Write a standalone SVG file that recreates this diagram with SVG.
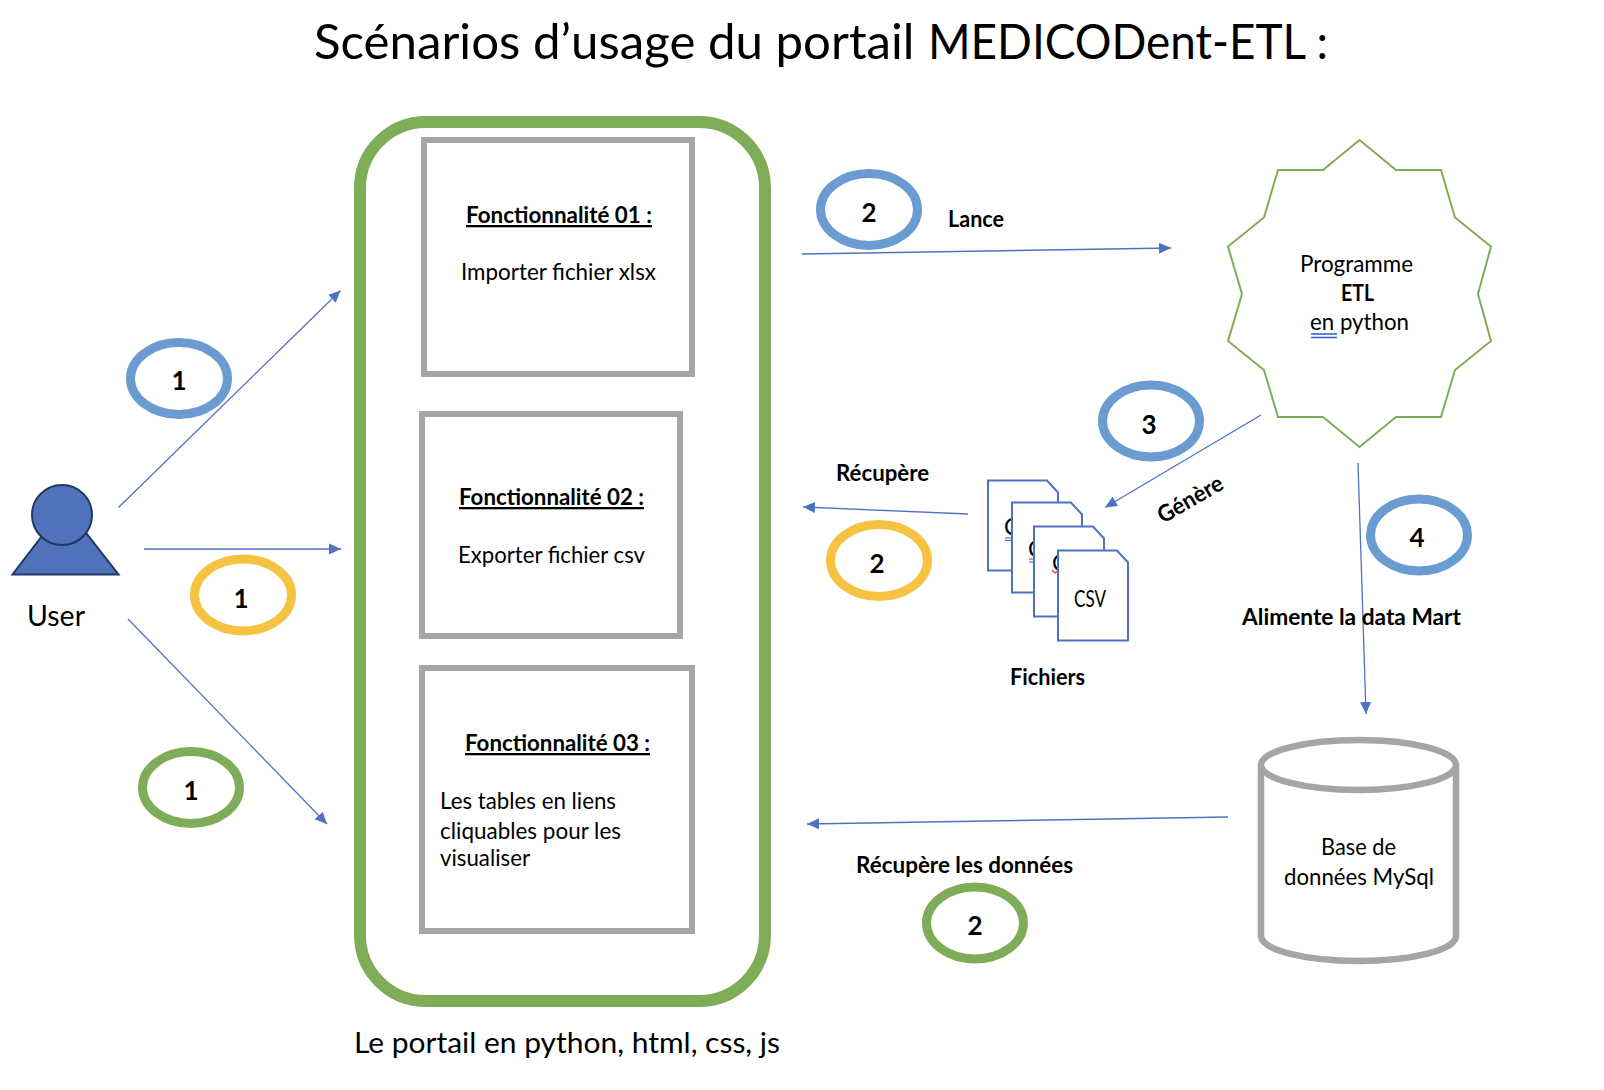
<svg xmlns="http://www.w3.org/2000/svg" width="1604" height="1090" viewBox="0 0 1604 1090">
<style>
text{font-family:"Lato","Carlito","Open Sans",sans-serif;fill:#000;font-size:23px}
.b{font-weight:700}
.u{text-decoration:underline}
.n{font-weight:700;font-size:26px;text-anchor:middle}
.title{font-size:49px}
.big{font-size:29.500px}
.box{fill:#fff;stroke:#a5a5a5;stroke-width:6}
.ring{fill:none;stroke-width:9}
.blue{stroke:#6a9bd1}.yellow{stroke:#f5c242}.green{stroke:#7fac57}
.doc{fill:#fff;stroke:#4f72c0;stroke-width:2}
.link{fill:none;stroke:#4f72c0;stroke-width:1.300;marker-end:url(#arrow)}
</style>
<defs><marker id="arrow" markerUnits="userSpaceOnUse" markerWidth="12" markerHeight="12" refX="12" refY="6" orient="auto"><path d="M0,0.500L12,6L0,11.500Z" fill="#4f72c0"/></marker></defs>
<rect width="1604" height="1090" fill="#fff"/>
<text id="title" class="title" y="59"><tspan x="314" textLength="613" lengthAdjust="spacingAndGlyphs">Scénarios d’usage du portail </tspan><tspan x="928" textLength="400" lengthAdjust="spacingAndGlyphs">MEDICODent-ETL :</tspan></text>
<g id="portal">
<rect x="360" y="122" width="405" height="879" rx="66" ry="66" fill="#fff" stroke="#7fac57" stroke-width="12"/>
<text class="big" x="354" y="1053" textLength="426" lengthAdjust="spacingAndGlyphs">Le portail en python, html, css, js</text>
</g>
<g id="f1"><rect class="box" x="424" y="140" width="268" height="234"/>
<text class="b u" x="466" y="223" textLength="186" lengthAdjust="spacingAndGlyphs">Fonctionnalité 01 :</text>
<text x="461" y="280" textLength="195" lengthAdjust="spacingAndGlyphs">Importer fichier xlsx</text></g>
<g id="f2"><rect class="box" x="422" y="414" width="258" height="222"/>
<text class="b u" x="459" y="505" textLength="185" lengthAdjust="spacingAndGlyphs">Fonctionnalité 02 :</text>
<text x="458" y="563" textLength="187" lengthAdjust="spacingAndGlyphs">Exporter fichier csv</text></g>
<g id="f3"><rect class="box" x="422" y="668" width="270" height="263"/>
<text class="b u" x="465" y="751" textLength="185" lengthAdjust="spacingAndGlyphs">Fonctionnalité 03 :</text>
<text x="440" y="809" textLength="176" lengthAdjust="spacingAndGlyphs">Les tables en liens</text>
<text x="440" y="839" textLength="181" lengthAdjust="spacingAndGlyphs">cliquables pour les</text>
<text x="440" y="866" textLength="90" lengthAdjust="spacingAndGlyphs">visualiser</text></g>
<g id="user">
<path d="M12.500,574.500H118.500L65,506Z" fill="#4f72bb" stroke="#1f3864" stroke-width="2"/>
<circle cx="62" cy="515" r="30" fill="#4f72bb" stroke="#1f3864" stroke-width="2"/>
<text class="big" x="27" y="625.500" textLength="58" lengthAdjust="spacingAndGlyphs">User</text>
</g>
<g id="etl">
<path d="M1359.500,140L1396,170L1441,170L1455,217.500L1491,246.500L1478,294L1491,341L1455,370L1441,417L1396,417L1359.500,447L1323,417L1278,417L1264,370L1228,341L1242,294L1228,246.500L1264,217.500L1278,170L1323,170Z" fill="#fff" stroke="#7fac57" stroke-width="2"/>
<text x="1300" y="272" textLength="113" lengthAdjust="spacingAndGlyphs">Programme</text>
<text class="b" x="1341" y="301" textLength="33" lengthAdjust="spacingAndGlyphs">ETL</text>
<text x="1310" y="330" textLength="99" lengthAdjust="spacingAndGlyphs">en python</text>
<path d="M1311,334H1337M1311,337.500H1337" stroke="#2f5bd0" stroke-width="1.300" fill="none"/>
</g>
<g id="db">
<path d="M1261,765V936A97.500,25 0 0 0 1456,936V765" fill="#fff" stroke="#a5a5a5" stroke-width="6.500"/>
<ellipse cx="1358.500" cy="765" rx="97.500" ry="25" fill="#fff" stroke="#a5a5a5" stroke-width="6.500"/>
<text x="1321" y="855" textLength="75" lengthAdjust="spacingAndGlyphs">Base de</text>
<text x="1284" y="885" textLength="150" lengthAdjust="spacingAndGlyphs">données MySql</text>
</g>
<g id="files">
<path class="doc" d="M988,480.500H1047L1058,492.500V570.500H988Z"/>
<text x="1004" y="535">C</text>
<path d="M1005,538H1012M1005,540.500H1012" stroke="#2f5bd0" stroke-width="1.200" fill="none"/>
<path class="doc" d="M1012,502.500H1071L1082,514.500V592.500H1012Z"/>
<text x="1028" y="557">C</text>
<path d="M1029,559H1034M1029,562H1034" stroke="#2f5bd0" stroke-width="1.200" fill="none"/>
<path class="doc" d="M1034,526.500H1093L1104,538.500V616.500H1034Z"/>
<text x="1052" y="571">C</text>
<path d="M1052,570L1055,573L1058,571" stroke="#e0392b" stroke-width="1.200" fill="none"/>
<path class="doc" d="M1058,550.500H1117L1128,562.500V640.500H1058Z"/>
<text x="1074" y="607" textLength="32" lengthAdjust="spacingAndGlyphs" font-size="21">CSV</text>
<text class="b" x="1010" y="685" textLength="75" lengthAdjust="spacingAndGlyphs">Fichiers</text>
</g>
<g id="connectors">
<path class="link" d="M118.500,507.500L340.500,290.500"/>
<path class="link" d="M144,549L341,549"/>
<path class="link" d="M128,619L327,824"/>
<path class="link" d="M802,254L1171,248"/>
<path class="link" d="M968,514L803,507"/>
<path class="link" d="M1261,415L1105,507.500"/>
<path class="link" d="M1358,463L1366,714"/>
<path class="link" d="M1228,817L807,824"/>
</g>
<g id="labels">
<text class="b" x="948" y="227" textLength="56" lengthAdjust="spacingAndGlyphs">Lance</text>
<text class="b" x="836" y="481" textLength="93" lengthAdjust="spacingAndGlyphs">Récupère</text>
<text class="b" x="856" y="873" textLength="217" lengthAdjust="spacingAndGlyphs">Récupère les données</text>
<text class="b" x="1242" y="625" textLength="219" lengthAdjust="spacingAndGlyphs">Alimente la data Mart</text>
<text class="b" transform="translate(1163,524) rotate(-30)" textLength="72" lengthAdjust="spacingAndGlyphs">Génère</text>
</g>
<g id="b1"><ellipse class="ring blue" cx="179" cy="378.500" rx="48.500" ry="36"/><text class="n" x="179" y="390">1</text></g>
<g id="y1"><ellipse class="ring yellow" cx="243" cy="595" rx="48.500" ry="36"/><text class="n" x="241" y="608">1</text></g>
<g id="g1"><ellipse class="ring green" cx="191" cy="787.500" rx="48.500" ry="36"/><text class="n" x="191" y="800">1</text></g>
<g id="b2"><ellipse class="ring blue" cx="869" cy="209.500" rx="48.500" ry="36"/><text class="n" x="869" y="222">2</text></g>
<g id="y2"><ellipse class="ring yellow" cx="879" cy="560.500" rx="48.500" ry="36"/><text class="n" x="877" y="573">2</text></g>
<g id="g2"><ellipse class="ring green" cx="975" cy="923" rx="48.500" ry="36"/><text class="n" x="975" y="935">2</text></g>
<g id="b3"><ellipse class="ring blue" cx="1151" cy="421" rx="48.500" ry="36"/><text class="n" x="1149" y="434">3</text></g>
<g id="b4"><ellipse class="ring blue" cx="1419" cy="535" rx="48.500" ry="36"/><text class="n" x="1417" y="547">4</text></g>
</svg>
